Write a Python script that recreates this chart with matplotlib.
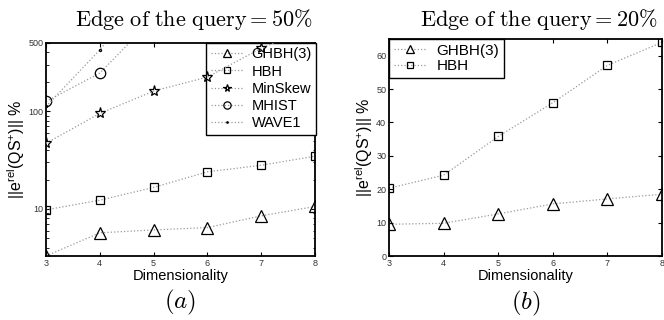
import matplotlib
matplotlib.use("Agg")
import matplotlib.pyplot as plt
from matplotlib.ticker import FixedLocator, NullFormatter, LogLocator

plt.rcParams["font.family"] = ["Liberation Sans", "DejaVu Sans"]
plt.rcParams["mathtext.fontset"] = "custom"
plt.rcParams["mathtext.rm"] = "Liberation Sans"
plt.rcParams["mathtext.it"] = "Liberation Sans:italic"

dims = [3, 4, 5, 6, 7, 8]

# Edge of the query = 50%
ghbh_a = [3.3, 5.7, 6.1, 6.45, 8.5, 10.6]
hbh_a = [9.8, 12.3, 16.6, 24.0, 28.0, 34.7]
minskew_a = [47, 95, 161, 224, 442, 750]
mhist_a = [126, 246, 900]
wave1_a = [112, 425, 2000]

# Edge of the query = 20%
ghbh_b = [9.5, 9.8, 12.6, 15.6, 17.1, 18.5]
hbh_b = [20.3, 24.2, 35.8, 45.9, 57.1, 64.0]

line_kw = dict(color="#9a9a9a", linestyle=":", linewidth=0.9,
               markeredgecolor="black", markerfacecolor="none",
               markeredgewidth=0.9)

fig = plt.figure(figsize=(6.64, 3.2), dpi=100)
ax1 = fig.add_axes([46 / 664, 64 / 320, 269 / 664, 213 / 320])
ax2 = fig.add_axes([389 / 664, 64 / 320, 273 / 664, 217 / 320])

ylab = r"$||\mathrm{e}^{\mathrm{rel}}(\mathrm{QS}^{+})||$ %"

# Panel (a), log scale
ax1.set_yscale("log")
ax1.plot(dims, ghbh_a, marker="^", markersize=8, label="GHBH(3)", **line_kw)
ax1.plot(dims, hbh_a, marker="s", markersize=5.5, label="HBH", **line_kw)
ax1.plot(dims, minskew_a, marker="*", markersize=8, label="MinSkew", zorder=6, **line_kw)
ax1.plot(dims[:len(mhist_a)], mhist_a, marker="o", markersize=7.5, label="MHIST", **line_kw)
ax1.plot(dims[:len(wave1_a)], wave1_a, marker=".", markersize=3, label="WAVE1", **line_kw)
ax1.set_xlim(3, 8)
ax1.set_ylim(3.3, 500)
ax1.yaxis.set_major_locator(FixedLocator([10, 100, 500]))
ax1.set_yticklabels(["10", "100", "500"])
ax1.yaxis.set_minor_locator(LogLocator(base=10, subs=range(2, 10)))
ax1.yaxis.set_minor_formatter(NullFormatter())
leg1 = ax1.legend(loc="upper right", borderaxespad=0, fontsize=10.5, handlelength=2.2,
                  fancybox=False, framealpha=1, edgecolor="black", markerscale=0.7,
                  labelspacing=0.22, borderpad=0.3, handletextpad=0.6,
                  bbox_to_anchor=(1.004, 1.0))
leg1.get_frame().set_linewidth(1.0)

# Panel (b), linear scale
ax2.plot(dims, ghbh_b, marker="^", markersize=8, label="GHBH(3)", **line_kw)
ax2.plot(dims, hbh_b, marker="s", markersize=5.5, label="HBH", **line_kw)
ax2.set_xlim(3, 8)
ax2.set_ylim(0, 65)
ax2.set_yticks([0, 10, 20, 30, 40, 50, 60])
leg2 = ax2.legend(loc="upper left", borderaxespad=0, fontsize=11, handlelength=2.2,
                  fancybox=False, framealpha=1, edgecolor="black", markerscale=0.7,
                  labelspacing=0.12, borderpad=0.3, handletextpad=0.6)
leg2.get_frame().set_linewidth(1.0)

fig.text(313 / 664, 1 - 20 / 320, r"$\mathrm{Edge\ of\ the\ query} = 50\%$",
         ha="right", va="center", fontsize=16, math_fontfamily="cm")
fig.text(658 / 664, 1 - 20 / 320, r"$\mathrm{Edge\ of\ the\ query} = 20\%$",
         ha="right", va="center", fontsize=16, math_fontfamily="cm")

for ax, cap in ((ax1, "$(a)$"), (ax2, "$(b)$")):
    ax.set_xticks(dims)
    ax.tick_params(axis="both", which="both", direction="in", labelsize=6.5,
                   labelcolor="#333333", pad=2, top=True, right=True)
    ax.tick_params(which="major", length=3)
    ax.tick_params(which="minor", length=1.8)
    for s in ax.spines.values():
        s.set_linewidth(1.3)
    ax.set_xlabel("Dimensionality", fontsize=10.5, labelpad=1)
    ax.set_ylabel(ylab, fontsize=11.5, labelpad=1)
    ax.text(0.5, -0.22, cap, transform=ax.transAxes, ha="center", va="center",
            fontsize=18, math_fontfamily="cm")

fig.savefig("out.png", dpi=100)
